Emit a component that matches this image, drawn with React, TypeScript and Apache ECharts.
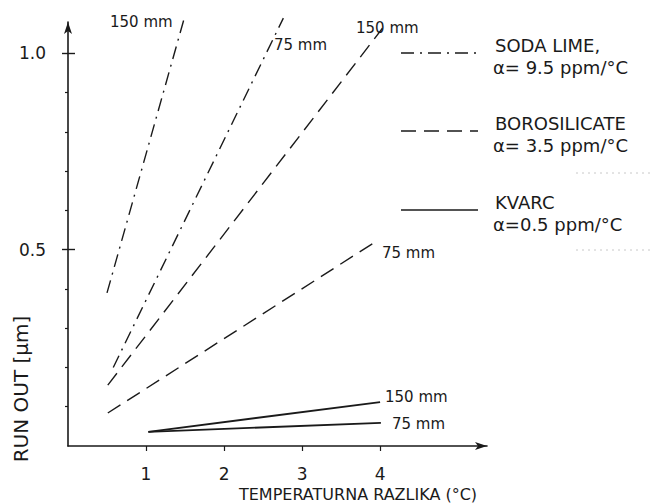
import React, { useEffect, useRef } from "react";
import * as echarts from "echarts";

// Tick values
const xTickValues = [1, 2, 3, 4];
const yTickValues = [0.5, 1.0];
const yMinorValues = [0.1, 0.2, 0.3, 0.4, 0.6, 0.7, 0.8, 0.9];

// Series: [temperature difference °C, run out µm]
const sodaLime150 = [[0.5, 0.39], [1.5, 1.097]];
const sodaLime75 = [[0.58, 0.2], [2.76, 1.09]];
const borosilicate150 = [[0.51, 0.155], [4.03, 1.064]];
const borosilicate75 = [[0.51, 0.084], [3.97, 0.524]];
const kvarc150 = [[1.03, 0.036], [4.0, 0.112]];
const kvarc75 = [[1.03, 0.036], [4.01, 0.059]];

const legendNames = ["SODA LIME,", "BOROSILICATE", "KVARC"];
const legendAlpha = ["α= 9.5 ppm/°C", "α= 3.5 ppm/°C", "α=0.5 ppm/°C"];

const FONT = "DejaVu Sans";
const INK = "#1a1a1a";
const DASHDOT = [13, 6, 2, 6];
const DASH = [15, 8];

export default function App() {
  const ref = useRef<HTMLDivElement>(null);
  useEffect(() => {
    document.body.style.margin = "0";
    const chart = echarts.init(ref.current!, null, { renderer: "svg" });
    const lineSeries = (name: string, data: number[][], type: any) => ({
      name,
      type: "line",
      data,
      xAxisIndex: 0,
      yAxisIndex: 0,
      symbol: "none",
      clip: false,
      silent: true,
      lineStyle: { color: INK, width: type === "solid" ? 1.8 : 1.4, type },
    });
    const tickAxisBase = {
      type: "value",
      min: 0,
      max: 1.08,
      position: "left",
      axisLine: { show: false },
      axisLabel: { show: false },
      splitLine: { show: false },
    };
    const legendY = [53, 131, 210];
    const legendTypes: any[] = [DASHDOT, DASH, "solid"];
    const graphics: any[] = [];
    legendY.forEach((y, i) => {
      graphics.push({
        type: "line",
        shape: { x1: 401, y1: y, x2: 478, y2: y },
        style: { stroke: INK, lineWidth: 1.6, lineDash: legendTypes[i] === "solid" ? null : legendTypes[i] },
      });
      graphics.push({
        type: "text",
        x: 495,
        y: y - 8,
        style: { text: legendNames[i], font: `18px '${FONT}'`, fill: INK, textVerticalAlign: "middle" },
      });
      graphics.push({
        type: "text",
        x: 493,
        y: y + 14,
        style: { text: legendAlpha[i], font: `18px '${FONT}'`, fill: INK, textVerticalAlign: "middle" },
      });
    });
    const lineLabels = [
      { t: "150 mm", x: 110, y: 22 },
      { t: "75 mm", x: 274, y: 45 },
      { t: "150 mm", x: 356, y: 28 },
      { t: "75 mm", x: 382, y: 253 },
      { t: "150 mm", x: 385, y: 397 },
      { t: "75 mm", x: 392, y: 424 },
    ];
    lineLabels.forEach((l) =>
      graphics.push({
        type: "text",
        x: l.x,
        y: l.y,
        style: { text: l.t, font: `15px '${FONT}'`, fill: INK, textVerticalAlign: "middle" },
      })
    );
    graphics.push({
      type: "text",
      x: 358,
      y: 494,
      style: {
        text: "TEMPERATURNA RAZLIKA (°C)",
        font: `16px '${FONT}'`,
        fill: INK,
        textAlign: "center",
        textVerticalAlign: "middle",
      },
    });
    graphics.push({
      type: "text",
      x: 21,
      y: 389,
      rotation: Math.PI / 2,
      style: {
        text: "RUN OUT [μm]",
        font: `20px '${FONT}'`,
        fill: INK,
        textAlign: "center",
        textVerticalAlign: "middle",
      },
    });
    // faint scan dotted lines
    [173, 250].forEach((y) =>
      graphics.push({
        type: "line",
        shape: { x1: 576, y1: y, x2: 651, y2: y },
        style: { stroke: "#c8c8c8", lineWidth: 1, lineDash: [2, 4] },
      })
    );

    chart.setOption({
      animation: false,
      backgroundColor: "#ffffff",
      grid: { left: 68, right: 164, top: 22, bottom: 58, containLabel: false },
      xAxis: [
        {
          type: "value",
          min: 0,
          max: 5.37,
          axisLine: {
            show: true,
            symbol: ["none", "arrow"],
            symbolSize: [6, 12],
            lineStyle: { color: INK, width: 1.6 },
          },
          axisTick: { show: true, customValues: xTickValues, length: 5, lineStyle: { color: INK, width: 1.2 } },
          axisLabel: {
            customValues: xTickValues,
            formatter: (v: number) => String(v),
            color: INK,
            fontSize: 17,
            fontFamily: FONT,
            margin: 19,
          },
          splitLine: { show: false },
        },
      ],
      yAxis: [
        {
          type: "value",
          min: 0,
          max: 1.08,
          position: "left",
          axisLine: {
            show: true,
            symbol: ["none", "arrow"],
            symbolSize: [6, 12],
            lineStyle: { color: INK, width: 1.6 },
          },
          axisTick: { show: true, customValues: yTickValues, length: 6, lineStyle: { color: INK, width: 1.4 } },
          axisLabel: {
            customValues: yTickValues,
            formatter: (v: number) => v.toFixed(1),
            color: INK,
            fontSize: 17,
            fontFamily: FONT,
            margin: 22,
          },
          splitLine: { show: false },
        },
        {
          ...tickAxisBase,
          axisTick: { show: true, inside: true, customValues: yTickValues, length: 7, lineStyle: { color: INK, width: 1.4 } },
        },
        {
          ...tickAxisBase,
          axisTick: { show: true, customValues: yMinorValues, length: 3, lineStyle: { color: INK, width: 1.2 } },
        },
      ],
      graphic: graphics,
      series: [
        lineSeries("SODA LIME 150 mm", sodaLime150, DASHDOT),
        lineSeries("SODA LIME 75 mm", sodaLime75, DASHDOT),
        lineSeries("BOROSILICATE 150 mm", borosilicate150, DASH),
        lineSeries("BOROSILICATE 75 mm", borosilicate75, DASH),
        lineSeries("KVARC 150 mm", kvarc150, "solid"),
        lineSeries("KVARC 75 mm", kvarc75, "solid"),
      ],
    });
    return () => chart.dispose();
  }, []);
  return <div ref={ref} style={{ width: 651, height: 504 }} />;
}
